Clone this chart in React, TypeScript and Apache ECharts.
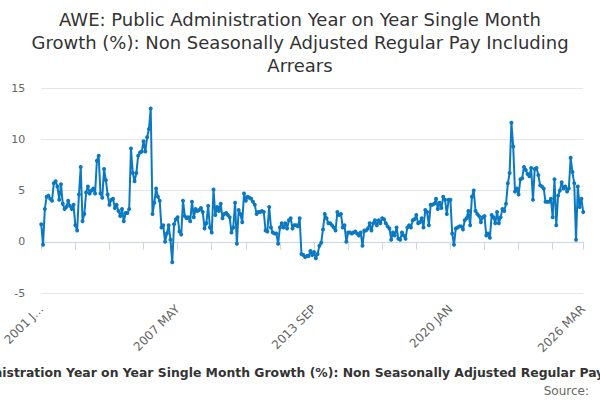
import React, { useEffect, useRef } from "react";
import * as echarts from "echarts";

const TITLE =
  "AWE: Public Administration Year on Year Single Month Growth (%): Non Seasonally Adjusted Regular Pay Including Arrears";
const TITLE_LINES = [
  "AWE: Public Administration Year on Year Single Month",
  "Growth (%): Non Seasonally Adjusted Regular Pay Including",
  "Arrears",
];
const SOURCE_TEXT = "Source:";

const START_YEAR = 2001;
const MONTHS = ["JAN", "FEB", "MAR", "APR", "MAY", "JUN", "JUL", "AUG", "SEP", "OCT", "NOV", "DEC"];
const Y_TICKS = [-5, 0, 5, 10, 15];

const v2001 = [1.7, -0.3, 3.2, 4.4, 4.5, 4.2, 4.0, 5.7, 5.9, 5.4, 4.1, 5.6];
const v2002 = [3.7, 3.2, 3.4, 4.0, 3.5, 3.2, 3.6, 1.6, 1.1, 4.6, 7.3, 2.0];
const v2003 = [2.7, 4.8, 5.4, 4.7, 5.0, 5.2, 4.7, 7.9, 8.4, 4.7, 4.3, 7.1];
const v2004 = [6.0, 4.6, 3.6, 4.1, 4.2, 3.3, 3.6, 3.0, 2.5, 3.2, 2.0, 2.8];
const v2005 = [2.8, 3.2, 9.1, 6.7, 5.9, 6.7, 8.4, 8.7, 8.8, 9.8, 8.8, 10.2];
const v2006 = [11.0, 13.0, 2.7, 3.8, 5.2, 4.4, 4.0, 1.4, 1.6, 0.0, 0.8, 1.6];
const v2007 = [0.2, -2.0, 1.7, 2.2, 2.4, 1.0, 0.7, 4.0, 2.5, 2.3, 2.4, 2.0];
const v2008 = [3.9, 2.4, 3.2, 3.0, 3.1, 3.3, 2.9, 1.3, 1.8, 3.5, 1.4, 0.9];
const v2009 = [5.1, 2.6, 3.4, 3.0, 3.7, 2.3, 2.7, 2.8, 2.6, 2.4, 0.9, 1.4];
const v2010 = [3.8, -0.2, 3.1, 2.7, 1.9, 4.7, 4.0, 4.4, 4.3, 4.2, 3.9, 3.6];
const v2011 = [2.7, 2.9, 2.9, 3.0, 2.9, 1.1, 1.0, 3.4, 1.4, 0.9, 0.8, 0.8];
const v2012 = [-0.2, 1.4, 1.8, 1.4, 1.8, 1.3, 2.1, 2.3, 1.3, 1.6, 1.6, 1.5];
const v2013 = [2.3, -1.2, -1.3, -1.5, -1.4, -1.4, -0.9, -1.3, -1.0, -1.6, -1.2, -0.4];
const v2014 = [-0.1, 1.2, 2.7, 2.3, 1.8, 1.8, 1.6, 1.4, 1.1, 2.9, 2.6, 2.7];
const v2015 = [1.4, 1.6, 0.0, 0.9, 0.9, 0.8, 0.9, 1.0, 0.8, 0.6, 0.9, -0.4];
const v2016 = [1.1, 1.1, 1.3, 1.8, 1.1, 1.8, 2.1, 1.6, 2.1, 1.8, 2.3, 2.2];
const v2017 = [1.8, 1.5, 1.3, 0.2, 0.9, 0.6, 1.4, 0.3, 0.2, 0.9, 0.6, 0.3];
const v2018 = [1.4, 1.6, 1.4, 2.1, 2.2, 2.6, 1.8, 1.9, 2.3, 1.4, 3.1, 2.9];
const v2019 = [1.6, 3.6, 3.6, 3.7, 4.2, 3.2, 3.8, 3.3, 4.4, 4.1, 2.7, 4.1];
const v2020 = [4.1, 0.8, -0.3, 1.3, 1.4, 1.5, 1.5, 1.2, 2.1, 2.3, 3.0, 1.6];
const v2021 = [4.4, 5.0, 3.0, 2.7, 2.5, 1.9, 2.4, 2.5, 0.6, 0.8, 0.4, 2.6];
const v2022 = [2.4, 1.8, 2.9, 1.8, 2.4, 3.2, 3.0, 3.7, 5.7, 6.7, 11.6, 9.3];
const v2023 = [4.9, 5.2, 4.6, 6.1, 6.2, 7.3, 7.0, 6.6, 6.4, 7.2, 4.1, 7.1];
const v2024 = [7.2, 6.5, 5.5, 5.4, 5.2, 3.9, 3.9, 3.9, 4.2, 2.4, 6.1, 1.6];
const v2025 = [4.5, 5.0, 5.8, 5.2, 5.4, 4.9, 5.2, 8.2, 6.8, 5.7, 0.2, 5.4];
const v2026 = [3.4, 4.2, 2.9];

const values = [
  ...v2001, ...v2002, ...v2003, ...v2004, ...v2005, ...v2006, ...v2007,
  ...v2008, ...v2009, ...v2010, ...v2011, ...v2012, ...v2013, ...v2014,
  ...v2015, ...v2016, ...v2017, ...v2018, ...v2019, ...v2020, ...v2021,
  ...v2022, ...v2023, ...v2024, ...v2025, ...v2026,
];

const categories = values.map(
  (_, i) => `${START_YEAR + Math.floor(i / 12)} ${MONTHS[i % 12]}`
);

const LAST = categories.length - 1;
const LINE_COLOR = "#0a79c1";
const AXIS_COLOR = "#ccd6eb";

export default function App() {
  const ref = useRef<HTMLDivElement>(null);

  useEffect(() => {
    if (!ref.current) return;
    const chart = echarts.init(ref.current, null, { renderer: "svg" });
    chart.setOption({
      animation: false,
      backgroundColor: "#ffffff",
      title: {
        text: TITLE_LINES.join("\n"),
        left: "center",
        top: 3,
        textStyle: {
          fontFamily: "DejaVu Sans",
          fontSize: 18,
          fontWeight: "normal",
          color: "#333333",
          lineHeight: 23,
        },
      },
      grid: { left: 39.4, right: 16.8, top: 88, bottom: 107, containLabel: false },
      xAxis: {
        type: "category",
        data: categories,
        boundaryGap: false,
        axisLine: { lineStyle: { color: AXIS_COLOR, width: 1 } },
        axisTick: {
          length: 8,
          interval: (i: number) => i % 19 === 0 || i === LAST,
          lineStyle: { color: AXIS_COLOR },
        },
        axisLabel: {
          interval: (i: number) => i % 76 === 0 || i === LAST,
          rotate: 45,
          margin: 14,
          fontFamily: "DejaVu Sans",
          fontSize: 12,
          color: "#666666",
          formatter: (v: string, i: number) => (i === 0 ? v.slice(0, 6) + "..." : v),
        },
        splitLine: { show: false },
      },
      yAxis: {
        type: "value",
        min: Y_TICKS[0],
        max: Y_TICKS[Y_TICKS.length - 1],
        interval: 5,
        axisLine: { show: false },
        axisTick: { show: false },
        axisLabel: {
          margin: 16,
          fontFamily: "DejaVu Sans",
          fontSize: 11,
          color: "#666666",
        },
        splitLine: { lineStyle: { color: "#e6e6e6", width: 1 } },
      },
      series: [
        {
          name: TITLE,
          type: "line",
          data: values,
          symbol: "circle",
          symbolSize: 4,
          showSymbol: true,
          showAllSymbol: true,
          lineStyle: { color: LINE_COLOR, width: 2 },
          itemStyle: { color: LINE_COLOR },
        },
      ],
      graphic: [
        {
          type: "text",
          left: "center",
          top: 366,
          style: {
            text: TITLE,
            fontFamily: "DejaVu Sans",
            fontSize: 12.4,
            fontWeight: "bold",
            fill: "#333333",
          },
        },
        {
          type: "text",
          right: 11,
          top: 385,
          style: {
            text: SOURCE_TEXT,
            fontFamily: "DejaVu Sans",
            fontSize: 12,
            fill: "#666666",
          },
        },
      ],
    });
    return () => chart.dispose();
  }, []);

  return (
    <div
      ref={ref}
      style={{ position: "absolute", left: 0, top: 0, width: 600, height: 400 }}
    />
  );
}
